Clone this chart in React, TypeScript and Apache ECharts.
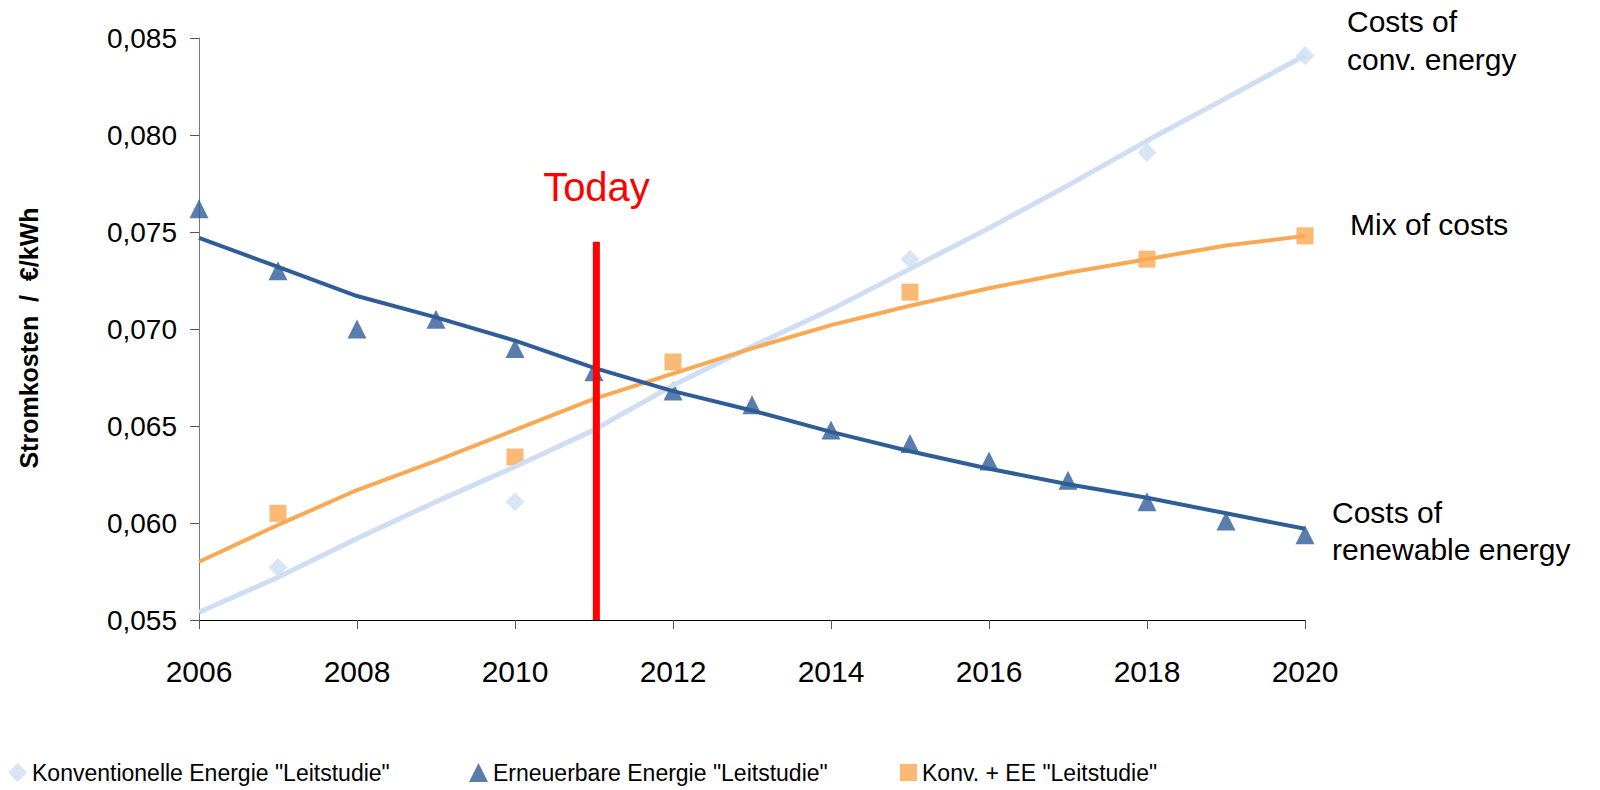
import React, { useEffect, useRef } from "react";
import * as echarts from "echarts";

// ---- data ----
const trendYears = [2006, 2007, 2008, 2009, 2010, 2011, 2012, 2013, 2014, 2015, 2016, 2017, 2018, 2019, 2020];

const convYears = [2007, 2010, 2015, 2018, 2020];
const convValues = [0.0577, 0.0611, 0.0736, 0.0791, 0.0841];
const convTrend = [0.0554, 0.0572, 0.0592, 0.0611, 0.0629, 0.0648, 0.0671, 0.0691, 0.0710, 0.0731, 0.0752, 0.0774, 0.0797, 0.0819, 0.0841];

const renewYears = [2006, 2007, 2008, 2009, 2010, 2011, 2012, 2013, 2014, 2015, 2016, 2017, 2018, 2019, 2020];
const renewValues = [0.0762, 0.0730, 0.0700, 0.0705, 0.0690, 0.0678, 0.0668, 0.0661, 0.0648, 0.0641, 0.0632, 0.0622, 0.0611, 0.0601, 0.0594];
const renewTrend = [0.0747, 0.0732, 0.0717, 0.0706, 0.0694, 0.0680, 0.0668, 0.0658, 0.0647, 0.0637, 0.0628, 0.0620, 0.0613, 0.0605, 0.0597];

const mixYears = [2007, 2010, 2012, 2015, 2018, 2020];
const mixValues = [0.0605, 0.0634, 0.0683, 0.0719, 0.0736, 0.0748];
const mixTrend = [0.0580, 0.0599, 0.0617, 0.0632, 0.0648, 0.0664, 0.0677, 0.0690, 0.0702, 0.0712, 0.0721, 0.0729, 0.0736, 0.0743, 0.0748];

const todayYear = 2011.03;
const todayRange = [0.055, 0.0745];

const seriesNames = [
  'Konventionelle Energie "Leitstudie"',
  'Erneuerbare Energie "Leitstudie"',
  'Konv. + EE "Leitstudie"',
];

const yAxisTitle = "Stromkosten  /  €/kWh";

const COLORS = { conv: "#cfdef2", renew: "#2f5d97", mix: "#f9a953", today: "#ff0000" };
const FONT = "'Liberation Sans', Arial, sans-serif";

const zip = (xs: number[], ys: number[]) => xs.map((x, i) => [x, ys[i]]);

export default function App() {
  const ref = useRef<HTMLDivElement>(null);

  useEffect(() => {
    if (!ref.current) return;
    const chart = echarts.init(ref.current, null, { renderer: "svg" });

    const legendBase = {
      top: 756,
      orient: "horizontal" as const,
      selectedMode: false,
      itemWidth: 19,
      itemHeight: 19,
      textStyle: { fontSize: 23, color: "#000", fontFamily: FONT },
    };

    chart.setOption({
      animation: false,
      backgroundColor: "#fff",
      grid: { left: 199, top: 38, right: 295, bottom: 170, containLabel: false },
      xAxis: {
        type: "value",
        min: 2006,
        max: 2020,
        interval: 2,
        axisLine: { show: true, lineStyle: { color: "#000", width: 1 } },
        axisTick: { show: true, length: 9, inside: false, lineStyle: { color: "#555" } },
        axisLabel: {
          fontSize: 30,
          color: "#000",
          fontFamily: FONT,
          margin: 36,
          formatter: (v: number) => String(v),
        },
        splitLine: { show: false },
      },
      yAxis: {
        type: "value",
        min: 0.055,
        max: 0.085,
        interval: 0.005,
        axisLine: { show: true, lineStyle: { color: "#777", width: 1 } },
        axisTick: { show: true, length: 9, inside: false, lineStyle: { color: "#555" } },
        axisLabel: {
          fontSize: 28,
          color: "#000",
          fontFamily: FONT,
          margin: 22,
          formatter: (v: number) => v.toFixed(3).replace(".", ","),
        },
        splitLine: { show: false },
      },
      legend: [
        { ...legendBase, left: 3, data: [{ name: seriesNames[0], icon: "diamond" }] },
        { ...legendBase, left: 464, data: [{ name: seriesNames[1], icon: "triangle" }] },
        { ...legendBase, left: 895, itemWidth: 17, itemHeight: 17, data: [{ name: seriesNames[2], icon: "rect" }] },
      ],
      series: [
        {
          name: seriesNames[0],
          type: "scatter",
          data: zip(convYears, convValues),
          symbol: "diamond",
          symbolSize: 19,
          itemStyle: { color: COLORS.conv },
          z: 2,
        },
        {
          name: seriesNames[1],
          type: "scatter",
          data: zip(renewYears, renewValues),
          symbol: "triangle",
          symbolSize: 19,
          itemStyle: { color: COLORS.renew },
          z: 2,
        },
        {
          name: seriesNames[2],
          type: "scatter",
          data: zip(mixYears, mixValues),
          symbol: "rect",
          symbolSize: 17,
          itemStyle: { color: COLORS.mix },
          z: 2,
        },
        {
          name: "convTrend",
          type: "line",
          data: zip(trendYears, convTrend),
          showSymbol: false,
          symbol: "none",
          lineStyle: { color: COLORS.conv, width: 5 },
          z: 3,
        },
        {
          name: "mixTrend",
          type: "line",
          data: zip(trendYears, mixTrend),
          showSymbol: false,
          symbol: "none",
          lineStyle: { color: COLORS.mix, width: 4 },
          z: 3,
        },
        {
          name: "renewTrend",
          type: "line",
          data: zip(trendYears, renewTrend),
          showSymbol: false,
          symbol: "none",
          lineStyle: { color: COLORS.renew, width: 4 },
          z: 3,
        },
        {
          name: "today",
          type: "line",
          data: [
            [todayYear, todayRange[0]],
            [todayYear, todayRange[1]],
          ],
          showSymbol: false,
          symbol: "none",
          lineStyle: { color: COLORS.today, width: 7, cap: "butt" },
          z: 5,
        },
      ],
      graphic: [
        {
          type: "text",
          x: 28.5,
          y: 338,
          rotation: Math.PI / 2,
          style: {
            text: yAxisTitle,
            fontSize: 25,
            fontWeight: "bold",
            fontFamily: FONT,
            fill: "#000",
            align: "center",
            verticalAlign: "middle",
          },
        },
        {
          type: "text",
          x: 596.5,
          y: 187,
          style: { text: "Today", fontSize: 40, fontFamily: FONT, fill: COLORS.today, align: "center", verticalAlign: "middle" },
        },
        { type: "text", x: 1347, y: 21.5, style: { text: "Costs of", fontSize: 30, fontFamily: FONT, fill: "#000", align: "left", verticalAlign: "middle" } },
        { type: "text", x: 1347, y: 59.5, style: { text: "conv. energy", fontSize: 30, fontFamily: FONT, fill: "#000", align: "left", verticalAlign: "middle" } },
        { type: "text", x: 1350, y: 224.5, style: { text: "Mix of costs", fontSize: 30, fontFamily: FONT, fill: "#000", align: "left", verticalAlign: "middle" } },
        { type: "text", x: 1332, y: 512.5, style: { text: "Costs of", fontSize: 30, fontFamily: FONT, fill: "#000", align: "left", verticalAlign: "middle" } },
        { type: "text", x: 1332, y: 549.5, style: { text: "renewable energy", fontSize: 30, fontFamily: FONT, fill: "#000", align: "left", verticalAlign: "middle" } },
      ],
    });

    return () => chart.dispose();
  }, []);

  return (
    <div
      ref={ref}
      style={{ position: "fixed", left: 0, top: 0, width: 1600, height: 790, background: "#fff" }}
    />
  );
}
